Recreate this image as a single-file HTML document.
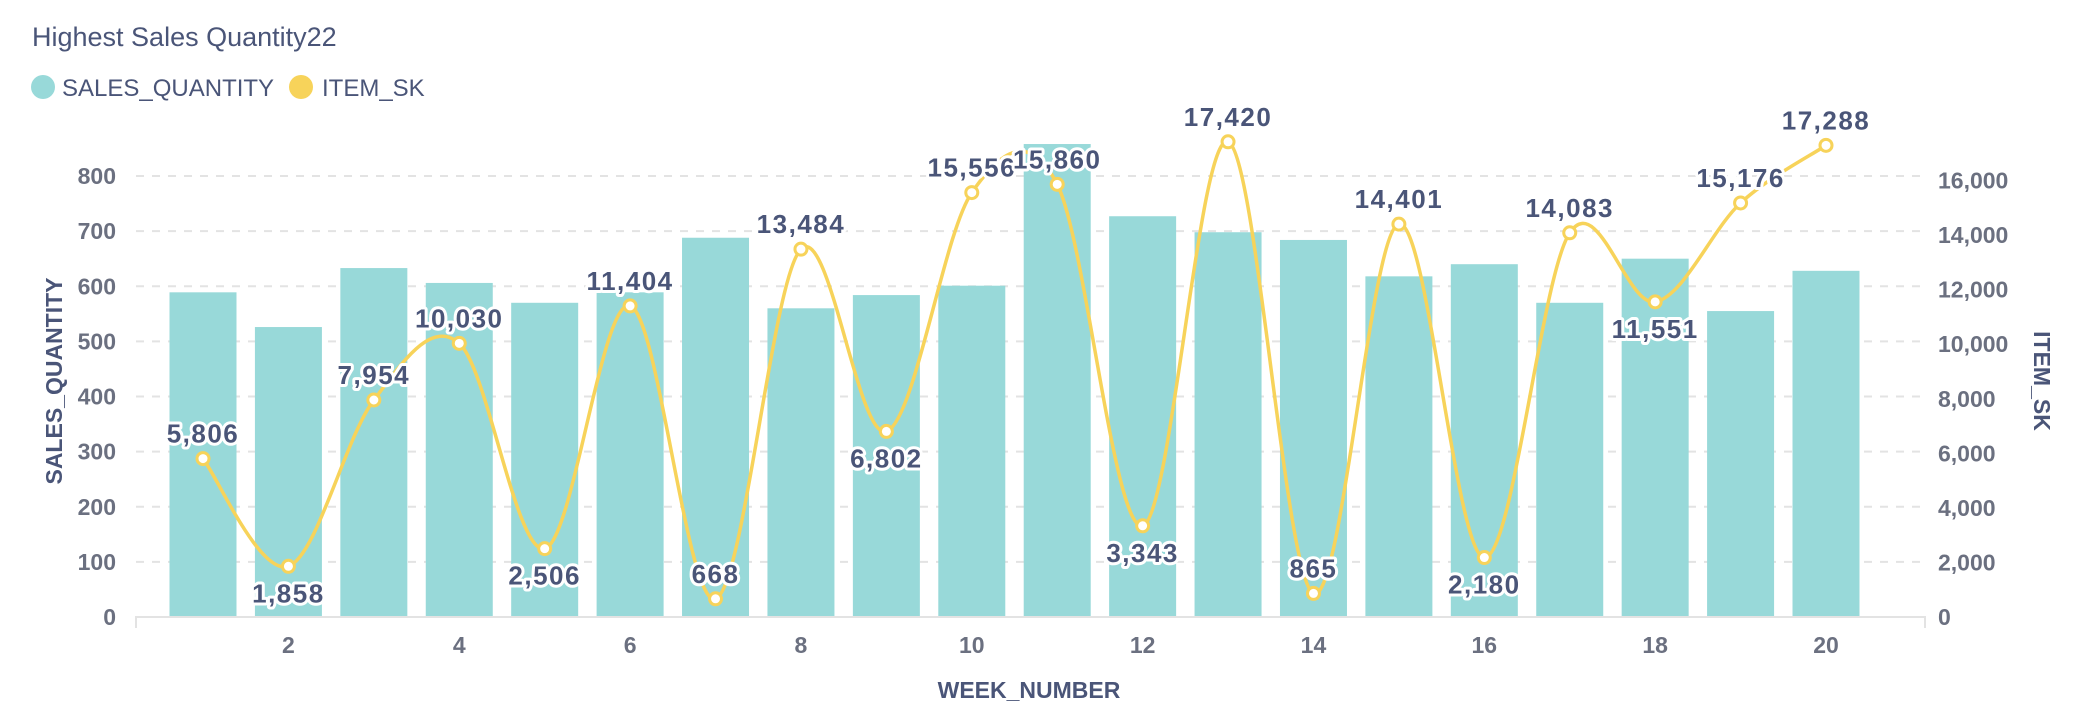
<!DOCTYPE html>
<html><head><meta charset="utf-8"><style>
body{margin:0;background:#fff;}
svg{display:block;font-family:"Liberation Sans",sans-serif;}
</style></head><body>
<svg id="chart" width="2096" height="724" xmlns="http://www.w3.org/2000/svg">
<text x="32" y="46" font-size="27" fill="#4a5578">Highest Sales Quantity22</text>
<g>
<g><circle cx="43" cy="87" r="12" fill="#98d9d9"/><text x="62" y="96" font-size="24" fill="#4a5578">SALES_QUANTITY</text></g>
<g><circle cx="301" cy="87" r="12" fill="#f7d35a"/><text x="322" y="96" font-size="24" fill="#4a5578">ITEM_SK</text></g>
</g>
<g id="grid"></g><g id="bars"></g><g id="axes"></g><g id="line"></g><g id="labels"></g>
<text transform="translate(62,381) rotate(-90)" text-anchor="middle" font-size="23" font-weight="bold" fill="#4a5578">SALES_QUANTITY</text>
<text transform="translate(2034,381) rotate(90)" text-anchor="middle" font-size="23" font-weight="bold" fill="#4a5578">ITEM_SK</text>
<text x="1029" y="698" text-anchor="middle" font-size="23" font-weight="bold" fill="#4a5578">WEEK_NUMBER</text>
</svg>
<script>
const weeks=[1,2,3,4,5,6,7,8,9,10,11,12,13,14,15,16,17,18,19,20];
const salesQuantity=[589,526,633,606,570,589,688,560,584,601,858,727,698,684,618,640,570,650,555,628];
const itemSk=[5806,1858,7954,10030,2506,11404,668,13484,6802,15556,15860,3343,17420,865,14401,2180,14083,11551,15176,17288];
const labelBelow=[false,true,false,false,true,false,false,false,true,false,false,true,false,false,false,true,false,true,false,false];
const leftTicks=[0,100,200,300,400,500,600,700,800];
const rightTicks=[0,2000,4000,6000,8000,10000,12000,14000,16000];
const xTicks=[2,4,6,8,10,12,14,16,18,20];
const NS="http://www.w3.org/2000/svg";
const X0=136,X1=1925,BASE=617;
const x=w=>203+(w-1)*(1826-203)/19;
const yL=v=>BASE-v*(441/800);
const yR=v=>BASE-v*(436.5/16000);
const fmt=v=>v.toLocaleString('en-US');
function mk(tag,attrs,parent,txt){const e=document.createElementNS(NS,tag);for(const k in attrs)e.setAttribute(k,attrs[k]);if(txt!==undefined)e.textContent=txt;parent.appendChild(e);return e;}
const grid=document.getElementById('grid'),bars=document.getElementById('bars'),axes=document.getElementById('axes'),lineG=document.getElementById('line'),labels=document.getElementById('labels');
leftTicks.forEach(t=>{
  if(t>0){const g=mk('line',{x1:X0,x2:X1,y1:yL(t),y2:yL(t),stroke:'#e3e3e3','stroke-width':2,'stroke-dasharray':'8 8'},grid);
  
  }
  const l=mk('text',{x:116,y:yL(t)+8,'text-anchor':'end','font-size':23,'font-weight':'bold',fill:'#6b7080'},axes,String(t));
  
  
});
rightTicks.forEach(t=>{
  const l=mk('text',{x:1938,y:yR(t)+8,'font-size':23,'font-weight':'bold',fill:'#6b7080'},axes,fmt(t));
  
  
});
xTicks.forEach(t=>{
  const l=mk('text',{x:x(t),y:653,'text-anchor':'middle','font-size':23,'font-weight':'bold',fill:'#6b7080'},axes,String(t));
  
  
});
const ax=mk('path',{d:`M${X0} 628V${BASE}H${X1}V628`,stroke:'#e3e3e3','stroke-width':2,fill:'none'},axes);


weeks.forEach((w,i)=>{
  const b=mk('rect',{x:x(w)-33.5,y:yL(salesQuantity[i]),width:67,height:BASE-yL(salesQuantity[i]),fill:'#98d9d9'},bars);
  
  
});
const pts=weeks.map((w,i)=>[x(w),yR(itemSk[i])]);
let d=`M${pts[0][0]} ${pts[0][1]}`;
for(let i=0;i<pts.length-1;i++){
  const p0=pts[Math.max(0,i-1)],p1=pts[i],p2=pts[i+1],p3=pts[Math.min(pts.length-1,i+2)];
  const t=1/3;
  const c1=[p1[0]+(p2[0]-p0[0])*t/2,p1[1]+(p2[1]-p0[1])*t/2];
  const c2=[p2[0]-(p3[0]-p1[0])*t/2,p2[1]-(p3[1]-p1[1])*t/2];
  d+=` C${c1[0]} ${c1[1]} ${c2[0]} ${c2[1]} ${p2[0]} ${p2[1]}`;
}
const ln=mk('path',{d:d,stroke:'#f7d35a','stroke-width':3.5,fill:'none'},lineG);


weeks.forEach((w,i)=>{
  const c=mk('circle',{cx:pts[i][0],cy:pts[i][1],r:6,fill:'#fff',stroke:'#f7d35a','stroke-width':3},lineG);
  
  
  const ly=labelBelow[i]?pts[i][1]+36:pts[i][1]-16;
  const t=mk('text',{x:pts[i][0],y:ly,'text-anchor':'middle','font-size':26,'font-weight':'bold','letter-spacing':1.5,fill:'#4a5578',stroke:'#fff','stroke-width':6,'paint-order':'stroke','stroke-linejoin':'round'},labels,fmt(itemSk[i]));
  
  
});
</script>
</body></html>
